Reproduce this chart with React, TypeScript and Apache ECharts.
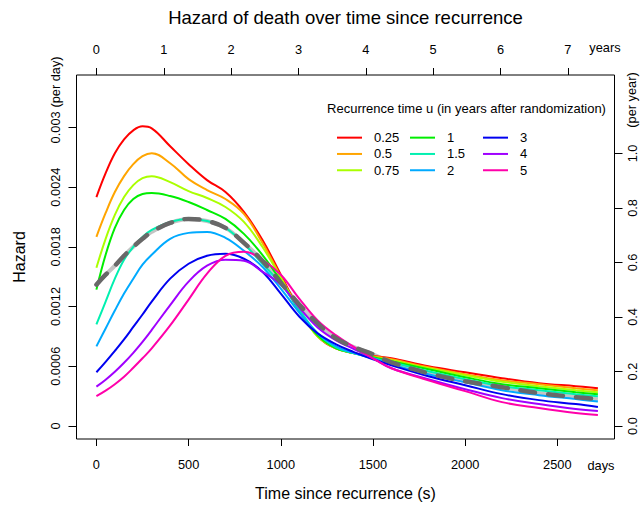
import React, { useEffect, useRef } from 'react';
import * as echarts from 'echarts';

// ---------- data ----------
const days = [0, 50, 100, 150, 200, 250, 300, 400, 500, 600, 700, 800, 900, 1000, 1100, 1200, 1300, 1400, 1500, 1600, 1800, 2000, 2200, 2400, 2600, 2720];

const recurrenceTimes = ['0.25', '0.5', '0.75', '1', '1.5', '2', '3', '4', '5'];
const seriesColors = ['#FF0000', '#FFA500', '#AAFF00', '#00EE00', '#00F0B0', '#00AAFF', '#0000F0', '#A000FF', '#FF00AA'];

const hazardU025 = [2.30e-3, 2.54e-3, 2.74e-3, 2.88e-3, 2.97e-3, 3.01e-3, 2.99e-3, 2.81e-3, 2.63e-3, 2.47e-3, 2.35e-3, 2.15e-3, 1.87e-3, 1.52e-3, 1.17e-3, 0.90e-3, 0.78e-3, 0.73e-3, 0.705e-3, 0.68e-3, 0.60e-3, 0.54e-3, 0.48e-3, 0.43e-3, 0.40e-3, 0.38e-3];
const hazardU05 = [1.90e-3, 2.14e-3, 2.35e-3, 2.51e-3, 2.63e-3, 2.71e-3, 2.74e-3, 2.64e-3, 2.48e-3, 2.37e-3, 2.28e-3, 2.13e-3, 1.84e-3, 1.50e-3, 1.16e-3, 0.90e-3, 0.78e-3, 0.73e-3, 0.70e-3, 0.67e-3, 0.59e-3, 0.52e-3, 0.46e-3, 0.42e-3, 0.38e-3, 0.36e-3];
const hazardU075 = [1.59e-3, 1.88e-3, 2.12e-3, 2.30e-3, 2.42e-3, 2.49e-3, 2.51e-3, 2.45e-3, 2.36e-3, 2.29e-3, 2.20e-3, 2.05e-3, 1.80e-3, 1.49e-3, 1.16e-3, 0.90e-3, 0.78e-3, 0.73e-3, 0.69e-3, 0.66e-3, 0.58e-3, 0.51e-3, 0.445e-3, 0.40e-3, 0.36e-3, 0.34e-3];
const hazardU1 = [1.37e-3, 1.72e-3, 1.99e-3, 2.17e-3, 2.28e-3, 2.33e-3, 2.34e-3, 2.31e-3, 2.25e-3, 2.17e-3, 2.08e-3, 1.93e-3, 1.72e-3, 1.46e-3, 1.16e-3, 0.91e-3, 0.78e-3, 0.73e-3, 0.69e-3, 0.65e-3, 0.57e-3, 0.49e-3, 0.42e-3, 0.38e-3, 0.34e-3, 0.32e-3];
const hazardU15 = [1.02e-3, 1.25e-3, 1.48e-3, 1.67e-3, 1.80e-3, 1.90e-3, 1.97e-3, 2.05e-3, 2.08e-3, 2.06e-3, 1.99e-3, 1.83e-3, 1.63e-3, 1.43e-3, 1.17e-3, 0.93e-3, 0.79e-3, 0.73e-3, 0.68e-3, 0.64e-3, 0.55e-3, 0.47e-3, 0.40e-3, 0.36e-3, 0.32e-3, 0.30e-3];
const hazardU2 = [0.80e-3, 0.98e-3, 1.16e-3, 1.33e-3, 1.48e-3, 1.62e-3, 1.72e-3, 1.88e-3, 1.94e-3, 1.95e-3, 1.89e-3, 1.76e-3, 1.60e-3, 1.38e-3, 1.14e-3, 0.93e-3, 0.80e-3, 0.73e-3, 0.68e-3, 0.62e-3, 0.52e-3, 0.44e-3, 0.36e-3, 0.31e-3, 0.27e-3, 0.245e-3];
const hazardU3 = [0.54e-3, 0.645e-3, 0.755e-3, 0.87e-3, 0.995e-3, 1.12e-3, 1.25e-3, 1.48e-3, 1.63e-3, 1.71e-3, 1.73e-3, 1.68e-3, 1.55e-3, 1.33e-3, 1.10e-3, 0.93e-3, 0.82e-3, 0.74e-3, 0.67e-3, 0.61e-3, 0.50e-3, 0.41e-3, 0.32e-3, 0.26e-3, 0.22e-3, 0.19e-3];
const hazardU4 = [0.395e-3, 0.465e-3, 0.545e-3, 0.635e-3, 0.735e-3, 0.845e-3, 0.965e-3, 1.215e-3, 1.45e-3, 1.61e-3, 1.67e-3, 1.66e-3, 1.55e-3, 1.42e-3, 1.19e-3, 0.99e-3, 0.86e-3, 0.77e-3, 0.68e-3, 0.58e-3, 0.47e-3, 0.37e-3, 0.28e-3, 0.22e-3, 0.17e-3, 0.15e-3];
const hazardU5 = [0.30e-3, 0.355e-3, 0.42e-3, 0.495e-3, 0.585e-3, 0.68e-3, 0.78e-3, 1.01e-3, 1.27e-3, 1.53e-3, 1.71e-3, 1.75e-3, 1.67e-3, 1.52e-3, 1.28e-3, 1.06e-3, 0.91e-3, 0.79e-3, 0.68e-3, 0.58e-3, 0.46e-3, 0.35e-3, 0.24e-3, 0.18e-3, 0.13e-3, 0.11e-3];
const hazardMarginal = [1.42e-3, 1.52e-3, 1.61e-3, 1.71e-3, 1.80e-3, 1.88e-3, 1.95e-3, 2.04e-3, 2.08e-3, 2.06e-3, 1.99e-3, 1.84e-3, 1.66e-3, 1.44e-3, 1.22e-3, 1.03e-3, 0.88e-3, 0.79e-3, 0.72e-3, 0.64e-3, 0.53e-3, 0.45e-3, 0.39e-3, 0.33e-3, 0.29e-3, 0.27e-3];

const hazardByU = [hazardU025, hazardU05, hazardU075, hazardU1, hazardU15, hazardU2, hazardU3, hazardU4, hazardU5];

const dayTicks = [0, 500, 1000, 1500, 2000, 2500];
const yearTicks = [0, 1, 2, 3, 4, 5, 6, 7];
const perDayTicks = [0, 0.0006, 0.0012, 0.0018, 0.0024, 0.003];
const perDayLabels = ['0', '0.0006', '0.0012', '0.0018', '0.0024', '0.003'];
const perYearTicks = [0, 0.2, 0.4, 0.6, 0.8, 1.0];
const perYearLabels = ['0.0', '0.2', '0.4', '0.6', '0.8', '1.0'];

// ---------- layout ----------
const W = 641;
const H = 506;
const DAYS_PER_YEAR = 365.25;
const X_MIN = -108;
const X_MAX = 2810;
const Y_MIN = -0.0001306;
const Y_MAX = 0.003526;
const FONT = "'Liberation Sans', Arial, Helvetica, sans-serif";
const legendLefts = [337, 410, 483];

function lookup(ticks: number[], labels: string[], v: number): string {
  const i = ticks.findIndex((t) => Math.abs(t - v) < 1e-9 * Math.max(1, Math.abs(t)) + 1e-12);
  return i >= 0 ? labels[i] : '';
}

export default function App() {
  const ref = useRef<HTMLDivElement>(null);

  useEffect(() => {
    if (!ref.current) return;
    const chart = echarts.init(ref.current, undefined, { renderer: 'svg', width: W, height: H });

    const tickStyle = { color: '#000', width: 1 };
    const labelBase = { color: '#000', fontSize: 12.8, fontFamily: FONT };
    const hiddenLine = { show: false, onZero: false };

    const colouredSeries = recurrenceTimes.map((u, k) => ({
      type: 'line',
      name: u,
      xAxisIndex: 0,
      yAxisIndex: 0,
      data: days.map((d, i) => [d, hazardByU[k][i]]),
      smooth: 0.4,
      symbol: 'none',
      showSymbol: false,
      lineStyle: { color: seriesColors[k], width: 2 },
      itemStyle: { color: seriesColors[k] },
      silent: true,
    }));

    const option: any = {
      animation: false,
      backgroundColor: '#fff',
      title: [
        {
          text: 'Hazard of death over time since recurrence',
          left: 345.5,
          top: 8,
          padding: 0,
          textAlign: 'center',
          textStyle: { fontSize: 18.5, fontWeight: 'normal', color: '#000', fontFamily: FONT },
        },
        {
          text: 'Recurrence time u (in years after randomization)',
          left: 466.5,
          top: 102,
          padding: 0,
          textAlign: 'center',
          textStyle: { fontSize: 13, fontWeight: 'normal', color: '#000', fontFamily: FONT },
        },
      ],
      grid: {
        left: 76.5,
        right: W - 614.5,
        top: 75,
        bottom: H - 439,
        show: true,
        borderColor: '#000',
        borderWidth: 1,
        backgroundColor: 'transparent',
        containLabel: false,
        outerBoundsMode: 'none',
      },
      legend: [0, 1, 2].map((c) => ({
        data: recurrenceTimes.slice(c * 3, c * 3 + 3),
        orient: 'vertical',
        left: legendLefts[c],
        top: 129.5,
        padding: 0,
        itemGap: 0,
        itemWidth: 25,
        itemHeight: 2,
        icon: 'rect',
        selectedMode: false,
        textStyle: { fontSize: 13, color: '#000', fontFamily: FONT, lineHeight: 16.3, padding: [0, 0, 0, 7] },
      })),
      xAxis: [
        {
          type: 'value',
          position: 'bottom',
          min: X_MIN,
          max: X_MAX,
          name: 'Time since recurrence (s)',
          nameLocation: 'middle',
          nameGap: 46,
          nameTextStyle: { fontSize: 16, color: '#000', fontFamily: FONT },
          axisLine: hiddenLine,
          splitLine: { show: false },
          axisTick: { show: true, inside: false, length: 7, customValues: dayTicks, lineStyle: tickStyle },
          axisLabel: { ...labelBase, margin: 19, customValues: dayTicks, formatter: (v: number) => String(v) },
        },
        {
          type: 'value',
          position: 'top',
          min: X_MIN / DAYS_PER_YEAR,
          max: X_MAX / DAYS_PER_YEAR,
          axisLine: hiddenLine,
          splitLine: { show: false },
          axisTick: { show: true, inside: false, length: 7, customValues: yearTicks, lineStyle: tickStyle },
          axisLabel: { ...labelBase, margin: 19, customValues: yearTicks, formatter: (v: number) => String(Math.round(v)) },
        },
      ],
      yAxis: [
        {
          type: 'value',
          position: 'left',
          min: Y_MIN,
          max: Y_MAX,
          name: 'Hazard',
          nameLocation: 'middle',
          nameGap: 49,
          nameTextStyle: { fontSize: 16, color: '#000', fontFamily: FONT },
          axisLine: hiddenLine,
          splitLine: { show: false },
          axisTick: { show: true, inside: false, length: 8, customValues: perDayTicks, lineStyle: tickStyle },
          axisLabel: {
            ...labelBase,
            rotate: 90,
            margin: 15,
            customValues: perDayTicks,
            formatter: (v: number) => lookup(perDayTicks, perDayLabels, v),
          },
        },
        {
          type: 'value',
          position: 'right',
          min: Y_MIN * DAYS_PER_YEAR,
          max: Y_MAX * DAYS_PER_YEAR,
          axisLine: hiddenLine,
          splitLine: { show: false },
          axisTick: { show: true, inside: false, length: 8, customValues: perYearTicks, lineStyle: tickStyle },
          axisLabel: {
            ...labelBase,
            rotate: 90,
            margin: 11,
            customValues: perYearTicks,
            formatter: (v: number) => lookup(perYearTicks, perYearLabels, v),
          },
        },
      ],
      graphic: [
        { type: 'text', x: 601, y: 465, silent: true, style: { text: 'days', fill: '#000', font: `12.8px ${FONT}`, align: 'center', verticalAlign: 'middle' } },
        { type: 'text', x: 605, y: 47, silent: true, style: { text: 'years', fill: '#000', font: `12.8px ${FONT}`, align: 'center', verticalAlign: 'middle' } },
        { type: 'text', x: 55, y: 82, rotation: Math.PI / 2, silent: true, style: { text: '(per day)', fill: '#000', font: `12.8px ${FONT}`, align: 'center', verticalAlign: 'middle' } },
        { type: 'text', x: 631, y: 100, rotation: Math.PI / 2, silent: true, style: { text: '(per year)', fill: '#000', font: `12.8px ${FONT}`, align: 'center', verticalAlign: 'middle' } },
      ],
      series: [
        {
          type: 'line',
          name: 'marginal-base',
          data: days.map((d, i) => [d, hazardMarginal[i]]),
          smooth: 0.4,
          symbol: 'none',
          showSymbol: false,
          lineStyle: { color: '#c4c4c4', width: 4 },
          silent: true,
          z: 1,
        },
        ...colouredSeries,
        {
          type: 'line',
          name: 'marginal',
          data: days.map((d, i) => [d, hazardMarginal[i]]),
          smooth: 0.4,
          symbol: 'none',
          showSymbol: false,
          lineStyle: { color: '#686868', width: 4.5, type: [15, 13], cap: 'round' },
          silent: true,
          z: 3,
        },
      ],
    };

    chart.setOption(option);
    return () => chart.dispose();
  }, []);

  return (
    <div
      ref={ref}
      style={{ position: 'fixed', left: 0, top: 0, width: W, height: H, background: '#fff' }}
    />
  );
}
